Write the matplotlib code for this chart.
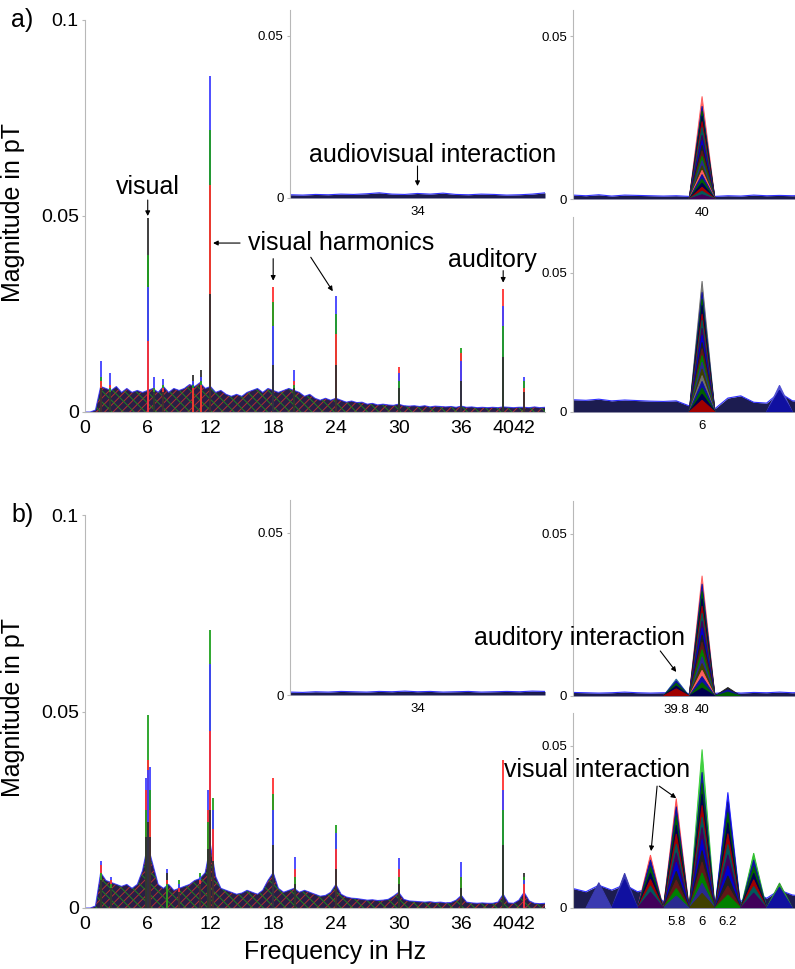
import numpy as np
import matplotlib
matplotlib.use("Agg")
import matplotlib.pyplot as plt

plt.rcParams['font.family'] = ['Liberation Sans', 'DejaVu Sans']
plt.rcParams['hatch.linewidth'] = 0.7

# ---- main spectra: dense sensor noise floor on a 0.5 Hz grid (0..44 Hz)
freq_main = np.arange(0, 44.5, 0.5)
noise_a = [0.0, 0.0, 0.0005, 0.0065, 0.0060, 0.0055, 0.0065, 0.0050, 0.0060, 0.0050,
           0.0055, 0.0050, 0.0055, 0.0060, 0.0050, 0.0065, 0.0050, 0.0060, 0.0055, 0.0060,
           0.0070, 0.0065, 0.0075, 0.0060, 0.0065, 0.0050, 0.0055, 0.0045, 0.0040, 0.0045,
           0.0040, 0.0050, 0.0055, 0.0060, 0.0050, 0.0060, 0.0055, 0.0050, 0.0055, 0.0060,
           0.0055, 0.0050, 0.0040, 0.0045, 0.0035, 0.0030, 0.0035, 0.0030, 0.0035, 0.0030,
           0.0025, 0.0028, 0.0024, 0.0025, 0.0020, 0.0022, 0.0018, 0.0020, 0.0018, 0.0017,
           0.0020, 0.0016, 0.0015, 0.0016, 0.0014, 0.0016, 0.0013, 0.0015, 0.0014, 0.0013,
           0.0014, 0.0012, 0.0015, 0.0012, 0.0013, 0.0011, 0.0012, 0.0011, 0.0012, 0.0011,
           0.0013, 0.0012, 0.0011, 0.0012, 0.0012, 0.0011, 0.0013, 0.0011, 0.0012]
noise_b = [0.0, 0.0, 0.0005, 0.0090, 0.0070, 0.0065, 0.0060, 0.0055, 0.0060, 0.0050,
           0.0060, 0.0095, 0.0160, 0.0110, 0.0060, 0.0050, 0.0060, 0.0045, 0.0050, 0.0055,
           0.0060, 0.0070, 0.0075, 0.0090, 0.0160, 0.0080, 0.0050, 0.0045, 0.0040, 0.0035,
           0.0038, 0.0045, 0.0040, 0.0035, 0.0045, 0.0070, 0.0090, 0.0050, 0.0040, 0.0045,
           0.0050, 0.0040, 0.0045, 0.0040, 0.0035, 0.0030, 0.0032, 0.0040, 0.0060, 0.0035,
           0.0028, 0.0025, 0.0024, 0.0022, 0.0020, 0.0021, 0.0019, 0.0020, 0.0022, 0.0030,
           0.0040, 0.0022, 0.0018, 0.0017, 0.0016, 0.0015, 0.0016, 0.0014, 0.0015, 0.0013,
           0.0014, 0.0020, 0.0032, 0.0015, 0.0013, 0.0012, 0.0013, 0.0012, 0.0012, 0.0015,
           0.0035, 0.0013, 0.0012, 0.0020, 0.0040, 0.0018, 0.0012, 0.0011, 0.0012]

# ---- sharp spectral lines: height per colour channel (red, green, blue, black)
spike_a_freq = [1.5, 2.4, 6.0, 6.6, 7.5, 10.3, 11.1, 12.0, 18.0, 20.0, 24.0, 30.0, 36.0, 40.0, 42.0]
spike_a_r = [0.008, 0.007, 0.018, 0.006, 0.006, 0.006, 0.007, 0.058, 0.0318, 0.008, 0.020, 0.0114, 0.015, 0.0315, 0.006]
spike_a_g = [0.009, 0.006, 0.040, 0.006, 0.007, 0.007, 0.008, 0.072, 0.028, 0.007, 0.025, 0.008, 0.0162, 0.022, 0.008]
spike_a_b = [0.013, 0.0099, 0.032, 0.009, 0.0085, 0.008, 0.009, 0.0858, 0.022, 0.0107, 0.0297, 0.010, 0.013, 0.027, 0.0089]
spike_a_k = [0.006, 0.005, 0.0495, 0.005, 0.005, 0.0095, 0.0107, 0.030, 0.012, 0.006, 0.012, 0.006, 0.008, 0.014, 0.005]

spike_b_freq = [1.5, 2.5, 5.8, 6.0, 6.2, 7.8, 9.0, 11.0, 11.8, 12.0, 12.2, 18.0, 20.1, 24.0, 30.0, 36.0, 40.0, 42.0]
spike_b_r = [0.011, 0.007, 0.030, 0.0377, 0.025, 0.007, 0.005, 0.007, 0.025, 0.045, 0.020, 0.033, 0.010, 0.015, 0.010, 0.008, 0.0377, 0.006]
spike_b_g = [0.009, 0.006, 0.025, 0.049, 0.030, 0.006, 0.007, 0.009, 0.022, 0.0707, 0.028, 0.029, 0.008, 0.021, 0.008, 0.008, 0.025, 0.008]
spike_b_b = [0.012, 0.008, 0.033, 0.035, 0.036, 0.010, 0.006, 0.008, 0.030, 0.062, 0.025, 0.025, 0.013, 0.019, 0.0128, 0.0117, 0.030, 0.007]
spike_b_k = [0.007, 0.005, 0.018, 0.022, 0.018, 0.009, 0.004, 0.006, 0.015, 0.025, 0.012, 0.016, 0.006, 0.010, 0.006, 0.005, 0.016, 0.0089]

# ---- zoomed views (0.1 Hz bins)
freq_34 = np.round(np.arange(33.0, 35.05, 0.1), 1)
freq_40 = np.round(np.arange(39.0, 40.85, 0.1), 1)
freq_6 = np.round(np.arange(5.0, 6.85, 0.1), 1)

a34_noise = [0.0010, 0.0009, 0.0011, 0.0010, 0.0012, 0.0011, 0.0013, 0.0016, 0.0012, 0.0011,
             0.0014, 0.0012, 0.0015, 0.0011, 0.0010, 0.0012, 0.0011, 0.0009, 0.0010, 0.0012, 0.0016]
b34_noise = [0.0009, 0.0008, 0.0010, 0.0009, 0.0011, 0.0010, 0.0009, 0.0011, 0.0010, 0.0012,
             0.0010, 0.0011, 0.0009, 0.0010, 0.0011, 0.0009, 0.0010, 0.0011, 0.0010, 0.0012, 0.0011]
a40_noise = [0.0012, 0.0010, 0.0013, 0.0009, 0.0012, 0.0011, 0.0010, 0.0009, 0.0010, 0.0008,
             0.0008, 0.0008, 0.0010, 0.0009, 0.0012, 0.0010, 0.0011, 0.0010, 0.0011]
b40_noise = [0.0011, 0.0010, 0.0009, 0.0010, 0.0012, 0.0010, 0.0009, 0.0010, 0.0010, 0.0008,
             0.0008, 0.0008, 0.0012, 0.0009, 0.0011, 0.0010, 0.0012, 0.0010, 0.0011]
a6_noise = [0.0044, 0.0042, 0.0046, 0.0040, 0.0043, 0.0041, 0.0039, 0.0038, 0.0040, 0.0022,
            0.0030, 0.0012, 0.0050, 0.0058, 0.0035, 0.0032, 0.0070, 0.0040, 0.0038]
b6_noise = [0.0060, 0.0050, 0.0070, 0.0055, 0.0072, 0.0050, 0.0060, 0.0020, 0.0030, 0.0010,
            0.0030, 0.0010, 0.0030, 0.0020, 0.0050, 0.0030, 0.0055, 0.0040, 0.0035]

# per-channel peak heights at single bins
a40_peak_40 = [0.0315, 0.0285, 0.0270, 0.0255, 0.0238, 0.0220, 0.0196, 0.0180, 0.0165, 0.0148,
               0.0131, 0.0118, 0.0102, 0.0088, 0.0075, 0.0061, 0.0049, 0.0036, 0.0024, 0.0013]
a6_peak_6 = [0.0470, 0.0430, 0.0405, 0.0383, 0.0352, 0.0330, 0.0301, 0.0276, 0.0250, 0.0228,
             0.0203, 0.0180, 0.0155, 0.0131, 0.0110, 0.0086, 0.0064, 0.0042]
a6_peak_66 = [0.0096, 0.0078]
b40_peak_398 = [0.0052, 0.0046, 0.0039, 0.0031, 0.0022]
b40_peak_40 = [0.0370, 0.0345, 0.0322, 0.0300, 0.0277, 0.0255, 0.0231, 0.0210, 0.0188, 0.0166,
               0.0143, 0.0121, 0.0100, 0.0079, 0.0060, 0.0041, 0.0024]
b40_peak_402 = [0.0026, 0.0019, 0.0012]
b6_peak_52 = [0.0078]
b6_peak_54 = [0.0107, 0.0088]
b6_peak_56 = [0.0163, 0.0148, 0.0127, 0.0108, 0.0088, 0.0068, 0.0049]
b6_peak_58 = [0.0337, 0.0312, 0.0284, 0.0255, 0.0228, 0.0197, 0.0170, 0.0141, 0.0113, 0.0086, 0.0060, 0.0037]
b6_peak_60 = [0.0488, 0.0418, 0.0385, 0.0351, 0.0316, 0.0280, 0.0248, 0.0211, 0.0177, 0.0142, 0.0108, 0.0076, 0.0045]
b6_peak_62 = [0.0356, 0.0327, 0.0294, 0.0263, 0.0229, 0.0196, 0.0164, 0.0130, 0.0099, 0.0068, 0.0040]
b6_peak_64 = [0.0169, 0.0148, 0.0128, 0.0107, 0.0087, 0.0066, 0.0046]
b6_peak_66 = [0.0077, 0.0064]

# dark, mixed channel colours used below the top trace of each peak
channel_cycle = ['#1010a0', '#006000', '#000050', '#a00000', '#005a5a', '#40005a',
                 '#0000d0', '#202020', '#601818', '#008000', '#2a2a90', '#404000']

W, H = 795, 969
fig = plt.figure(figsize=(W / 100, H / 100), dpi=100)


def px_axes(left, top, right, bottom):
    return fig.add_axes([left / W, 1 - bottom / H, (right - left) / W, (bottom - top) / H])


def style_axes(ax, labelsize, xpad, gray='#b8b8b8'):
    for s in ('top', 'right'):
        ax.spines[s].set_visible(False)
    ax.spines['left'].set_color(gray)
    ax.spines['bottom'].set_color(gray)
    ax.tick_params(axis='y', direction='out', length=2.5, color=gray, labelsize=labelsize, pad=2)
    ax.tick_params(axis='x', length=0, labelsize=labelsize, pad=xpad)


def draw_main(ax, noise, sf, sr, sg, sb, sk):
    ax.fill_between(freq_main, 0, noise, facecolor='#2a1e46', edgecolor='#b03030',
                    hatch='////', lw=0, zorder=2)
    ax.fill_between(freq_main, 0, noise, facecolor='none', edgecolor='#208020',
                    hatch='\\\\\\', lw=0, zorder=2)
    ax.plot(freq_main, noise, color='#2a2aff', lw=0.8, alpha=0.8, zorder=2)
    for i, f in enumerate(sf):
        layers = sorted([(sr[i], '#ff3030'), (sg[i], '#20a020'), (sb[i], '#4040ff'), (sk[i], '#303030')],
                        reverse=True)
        for h, c in layers:
            ax.vlines(f, 0, h, color=c, lw=1.3, zorder=3)
    ax.set_xlim(0, 44)
    ax.set_ylim(0, 0.1)
    ax.set_xticks([0, 6, 12, 18, 24, 30, 36, 40, 42])
    ax.set_yticks([0, 0.05, 0.1])
    ax.set_yticklabels(['0', '0.05', '0.1'])
    style_axes(ax, 14, 6)
    ax.set_ylabel('Magnitude in pT', fontsize=18)
    ax.yaxis.set_label_coords(-0.13, 0.51)


def draw_zoom(ax, freq, noise, peaks, xlim, ytop, xticks, xticklabels):
    ax.fill_between(freq, 0, noise, color='#1c1c50', lw=0, zorder=2)
    ax.plot(freq, noise, color='#3030ff', lw=0.8, zorder=2)
    for f, heights, top in peaks:
        cols = [top] + channel_cycle
        for j, h in enumerate(sorted(heights, reverse=True)):
            c = cols[j % len(cols)]
            ax.fill([f - 0.1, f, f + 0.1], [0, h, 0], fc=c, ec=c, lw=0.7, zorder=3)
    ax.set_xlim(*xlim)
    ax.set_ylim(0, ytop)
    ax.set_xticks(xticks)
    ax.set_xticklabels(xticklabels)
    ax.set_yticks([0, 0.05])
    ax.set_yticklabels(['0', '0.05'])
    style_axes(ax, 9.5, 6)
    ax.spines['bottom'].set_visible(False)


# ---------------- panel a
ax_a = px_axes(85, 20, 545, 412)
draw_main(ax_a, noise_a, spike_a_freq, spike_a_r, spike_a_g, spike_a_b, spike_a_k)
ax_a.text(-0.16, 1.0, 'a)', transform=ax_a.transAxes, fontsize=18, va='center', ha='left')

arrow = dict(arrowstyle='-|>', color='k', lw=0.8, mutation_scale=7, shrinkA=0, shrinkB=0)
ax_a.annotate('', xy=(6, 0.050), xytext=(0, 16), textcoords='offset pixels', arrowprops=arrow)
ax_a.annotate('visual', xy=(6, 0.050), xytext=(0, 29), textcoords='offset pixels',
              ha='center', va='center', fontsize=18)
ax_a.annotate('', xy=(12.25, 0.0431), xytext=(27, 0), textcoords='offset pixels', arrowprops=arrow)
ax_a.text(15.6, 0.0431, 'visual harmonics', ha='left', va='center', fontsize=18)
ax_a.annotate('', xy=(18, 0.0335), xytext=(0, 22), textcoords='offset pixels', arrowprops=arrow)
ax_a.annotate('', xy=(23.7, 0.0308), xytext=(-22, 34), textcoords='offset pixels', arrowprops=arrow)
ax_a.annotate('', xy=(40, 0.033), xytext=(0, 12), textcoords='offset pixels', arrowprops=arrow)
ax_a.text(38.95, 0.0388, 'auditory', ha='center', va='center', fontsize=18)

ax_a34 = px_axes(290, 10, 545, 198)
draw_zoom(ax_a34, freq_34, a34_noise, [], (33.0, 35.0), 0.058, [34], ['34'])
ax_a34.annotate('', xy=(34.0, 0.0037), xytext=(0, 20), textcoords='offset pixels', arrowprops=arrow)
ax_a34.text(34.12, 0.0133, 'audiovisual interaction', ha='center', va='center', fontsize=18)

ax_a40 = px_axes(573, 10, 795, 199)
draw_zoom(ax_a40, freq_40, a40_noise, [(40.0, a40_peak_40, '#ff6060')],
          (39.0, 40.72), 0.058, [40], ['40'])

ax_a6 = px_axes(573, 217, 795, 412)
draw_zoom(ax_a6, freq_6, a6_noise, [(6.0, a6_peak_6, '#707070'), (6.6, a6_peak_66, '#5050d0')],
          (5.0, 6.72), 0.07, [6], ['6'])

# ---------------- panel b
ax_b = px_axes(85, 515, 545, 908)
draw_main(ax_b, noise_b, spike_b_freq, spike_b_r, spike_b_g, spike_b_b, spike_b_k)
ax_b.text(-0.16, 1.0, 'b)', transform=ax_b.transAxes, fontsize=18, va='center', ha='left')
ax_b.set_xlabel('Frequency in Hz', fontsize=18)
ax_b.xaxis.set_label_coords(0.543, -0.082)

ax_b34 = px_axes(290, 500, 545, 695)
draw_zoom(ax_b34, freq_34, b34_noise, [], (33.0, 35.0), 0.06, [34], ['34'])

ax_b40 = px_axes(573, 501, 795, 696)
draw_zoom(ax_b40, freq_40, b40_noise,
          [(40.0, b40_peak_40, '#ff6060'), (39.8, b40_peak_398, '#3070a0'), (40.2, b40_peak_402, '#202020')],
          (39.0, 40.72), 0.06, [39.8, 40], ['39.8', '40'])
ax_b40.annotate('', xy=(39.8, 0.0074), xytext=(-16, 21), textcoords='offset pixels', arrowprops=arrow)
ax_b40.text(39.047, 0.0179, 'auditory interaction', ha='center', va='center', fontsize=18)

ax_b6 = px_axes(573, 713, 795, 908)
draw_zoom(ax_b6, freq_6, b6_noise,
          [(6.0, b6_peak_60, '#40d040'), (5.8, b6_peak_58, '#ff5050'), (6.2, b6_peak_62, '#2020ff'),
           (5.6, b6_peak_56, '#ff5050'), (6.4, b6_peak_64, '#30c030'), (5.4, b6_peak_54, '#3a3ab0'),
           (5.2, b6_peak_52, '#3a3ab0'), (6.6, b6_peak_66, '#30a030')],
          (5.0, 6.72), 0.06, [5.8, 6, 6.2], ['5.8', '6', '6.2'])
ax_b6.annotate('', xy=(5.605, 0.0175), xytext=(6, 65), textcoords='offset pixels', arrowprops=arrow)
ax_b6.annotate('', xy=(5.80, 0.0338), xytext=(-17, 12), textcoords='offset pixels', arrowprops=arrow)
ax_b6.text(5.186, 0.0425, 'visual interaction', ha='center', va='center', fontsize=18)

fig.savefig('out.png', dpi=100)
